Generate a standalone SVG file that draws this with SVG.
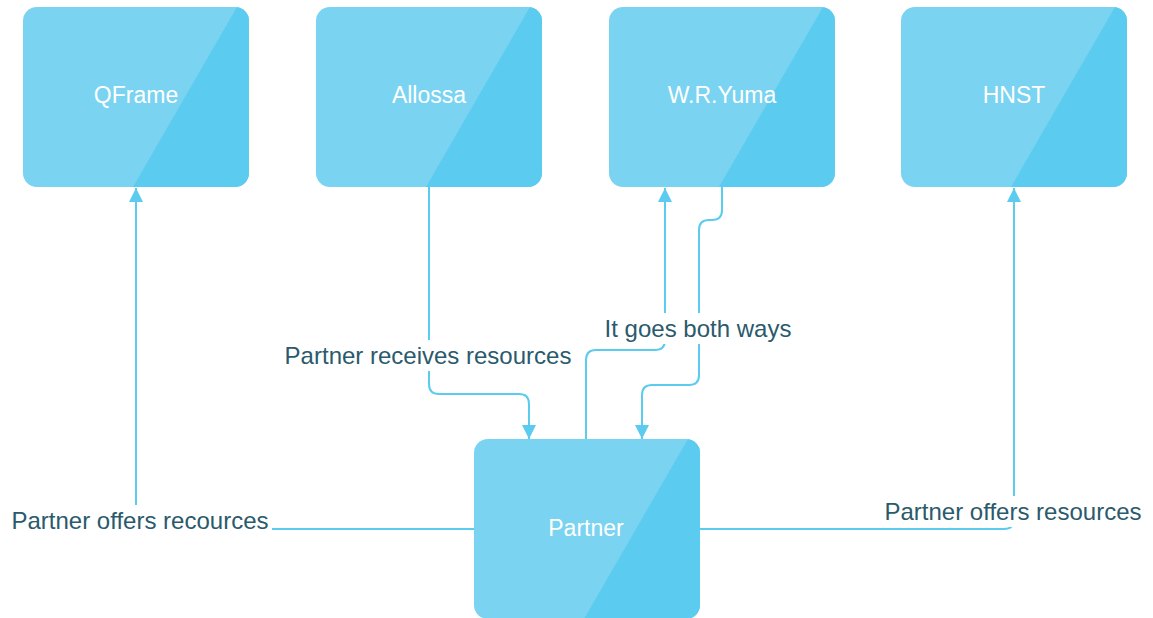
<svg xmlns="http://www.w3.org/2000/svg" width="1153" height="618" viewBox="0 0 1153 618">
  <style>
    .box { fill: #7AD3F0; }
    .shade { fill: #5BCBEF; }
    .name { font-family: "Liberation Sans", Arial, sans-serif; font-size: 23px; fill: #FFFFFF; text-anchor: middle; }
    .wire { fill: none; stroke: #5BCBEF; stroke-width: 2; }
    .tag { font-family: "Liberation Sans", Arial, sans-serif; font-size: 24px; fill: #2A5A6C; text-anchor: middle; }
    .mask { fill: #FFFFFF; }
  </style>
  <defs>
    <marker id="head" viewBox="0 0 14 14" refX="14" refY="7" markerWidth="14" markerHeight="14" markerUnits="userSpaceOnUse" orient="auto">
      <path d="M0,0 L14,7 L0,14 Z" fill="#5BCBEF"/>
    </marker>
    <clipPath id="card">
      <rect x="0" y="0" width="226" height="180" rx="14" ry="14"/>
    </clipPath>
    <g id="tile">
      <g clip-path="url(#card)">
        <rect class="box" x="0" y="0" width="226" height="180"/>
        <path class="shade" d="M214,0 L226,0 L226,180 L110,180 Z"/>
      </g>
    </g>
  </defs>

  <rect width="1153" height="618" fill="#FFFFFF"/>

  <!-- connectors -->
  <g id="connectors">
    <path class="wire" d="M474,529 H136 V188" marker-end="url(#head)"/>
    <path class="wire" d="M429,187 V384 Q429,394 439,394 H519 Q529,394 529,404 V439" marker-end="url(#head)"/>
    <path class="wire" d="M586,439 V360 Q586,350 596,350 H655 Q665,350 665,340 V188" marker-end="url(#head)"/>
    <path class="wire" d="M722,187 V210 Q722,220 712,220 H709 Q699,220 699,230 V375 Q699,385 689,385 H652 Q642,385 642,395 V439" marker-end="url(#head)"/>
    <path class="wire" d="M699,529 H1004 Q1014,529 1014,519 V188" marker-end="url(#head)"/>

    <rect class="mask" x="6" y="505" width="266" height="31"/>
    <text class="tag" x="140" y="529">Partner offers recources</text>

    <rect class="mask" x="281" y="340" width="294" height="31"/>
    <text class="tag" x="428" y="364">Partner receives resources</text>

    <rect class="mask" x="601" y="313" width="194" height="31"/>
    <text class="tag" x="698" y="337">It goes both ways</text>

    <rect class="mask" x="880" y="496" width="267" height="31"/>
    <text class="tag" x="1013" y="520">Partner offers resources</text>
  </g>

  <!-- nodes -->
  <g id="qframe">
    <use href="#tile" x="23" y="7"/>
    <text class="name" x="136" y="103">QFrame</text>
  </g>
  <g id="allossa">
    <use href="#tile" x="316" y="7"/>
    <text class="name" x="429" y="103">Allossa</text>
  </g>
  <g id="wryuma">
    <use href="#tile" x="609" y="7"/>
    <text class="name" x="722" y="103">W.R.Yuma</text>
  </g>
  <g id="hnst">
    <use href="#tile" x="901" y="7"/>
    <text class="name" x="1014" y="103">HNST</text>
  </g>
  <g id="partner">
    <use href="#tile" x="474" y="439"/>
    <text class="name" x="586" y="536">Partner</text>
  </g>
</svg>
